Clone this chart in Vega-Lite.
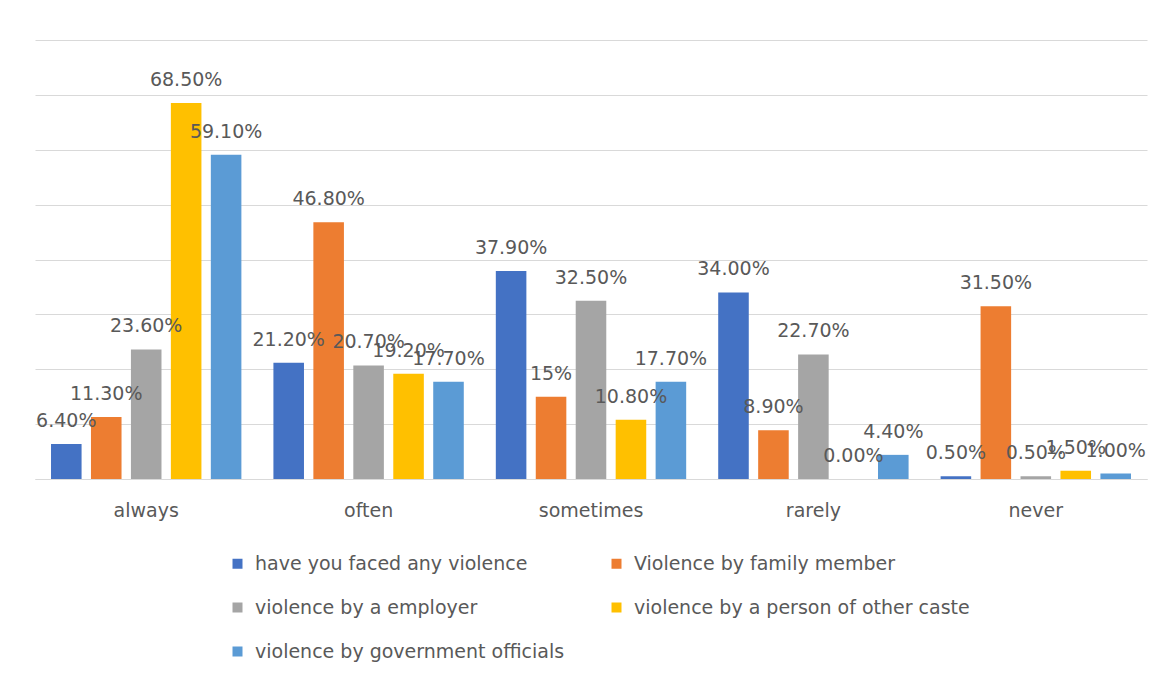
{
  "$schema": "https://vega.github.io/schema/vega-lite/v6.json",
  "width": 1112,
  "height": 439,
  "autosize": {"type": "none"},
  "padding": {"left": 35, "top": 40, "right": 24, "bottom": 200},
  "background": "white",
  "data": {
    "values": [
      {"cat": "always", "series": "have you faced any violence", "value": 6.4, "label": "6.40%"},
      {"cat": "always", "series": "Violence by family member", "value": 11.3, "label": "11.30%"},
      {"cat": "always", "series": "violence by a employer", "value": 23.6, "label": "23.60%"},
      {"cat": "always", "series": "violence by a person of other caste", "value": 68.5, "label": "68.50%"},
      {"cat": "always", "series": "violence by government officials", "value": 59.1, "label": "59.10%"},
      {"cat": "often", "series": "have you faced any violence", "value": 21.2, "label": "21.20%"},
      {"cat": "often", "series": "Violence by family member", "value": 46.8, "label": "46.80%"},
      {"cat": "often", "series": "violence by a employer", "value": 20.7, "label": "20.70%"},
      {"cat": "often", "series": "violence by a person of other caste", "value": 19.2, "label": "19.20%"},
      {"cat": "often", "series": "violence by government officials", "value": 17.7, "label": "17.70%"},
      {"cat": "sometimes", "series": "have you faced any violence", "value": 37.9, "label": "37.90%"},
      {"cat": "sometimes", "series": "Violence by family member", "value": 15, "label": "15%"},
      {"cat": "sometimes", "series": "violence by a employer", "value": 32.5, "label": "32.50%"},
      {"cat": "sometimes", "series": "violence by a person of other caste", "value": 10.8, "label": "10.80%"},
      {"cat": "sometimes", "series": "violence by government officials", "value": 17.7, "label": "17.70%"},
      {"cat": "rarely", "series": "have you faced any violence", "value": 34.0, "label": "34.00%"},
      {"cat": "rarely", "series": "Violence by family member", "value": 8.9, "label": "8.90%"},
      {"cat": "rarely", "series": "violence by a employer", "value": 22.7, "label": "22.70%"},
      {"cat": "rarely", "series": "violence by a person of other caste", "value": 0.0, "label": "0.00%"},
      {"cat": "rarely", "series": "violence by government officials", "value": 4.4, "label": "4.40%"},
      {"cat": "never", "series": "have you faced any violence", "value": 0.5, "label": "0.50%"},
      {"cat": "never", "series": "Violence by family member", "value": 31.5, "label": "31.50%"},
      {"cat": "never", "series": "violence by a employer", "value": 0.5, "label": "0.50%"},
      {"cat": "never", "series": "violence by a person of other caste", "value": 1.5, "label": "1.50%"},
      {"cat": "never", "series": "violence by government officials", "value": 1.0, "label": "1.00%"}
    ]
  },
  "encoding": {
    "x": {
      "field": "cat", "type": "nominal", "sort": null,
      "scale": {"paddingInner": 0.144, "paddingOuter": 0.072},
      "axis": {
        "title": null, "labelAngle": 0, "ticks": false,
        "domainColor": "#d9d9d9", "domainWidth": 1,
        "labelFont": "DejaVu Sans", "labelFontSize": 19, "labelColor": "#595959",
        "labelPadding": 22
      }
    },
    "xOffset": {
      "field": "series", "type": "nominal",
      "scale": {
        "domain": ["have you faced any violence", "Violence by family member", "violence by a employer", "violence by a person of other caste", "violence by government officials"],
        "paddingInner": 0.235, "paddingOuter": 0
      }
    },
    "y": {
      "field": "value", "type": "quantitative",
      "scale": {"domain": [0, 80], "nice": false},
      "axis": {
        "title": null, "labels": false, "ticks": false, "domain": false,
        "values": [0, 10, 20, 30, 40, 50, 60, 70, 80],
        "grid": true, "gridColor": "#d9d9d9", "gridWidth": 1
      }
    }
  },
  "layer": [
    {
      "mark": {"type": "bar"},
      "encoding": {
        "color": {
          "field": "series", "type": "nominal",
          "scale": {
            "domain": ["have you faced any violence", "Violence by family member", "violence by a employer", "violence by a person of other caste", "violence by government officials"],
            "range": ["#4472C4", "#ED7D31", "#A5A5A5", "#FFC000", "#5B9BD5"]
          },
          "legend": {
            "title": null, "orient": "none", "legendX": 193, "legendY": 514,
            "direction": "horizontal",
            "columns": 2, "columnPadding": 42, "rowPadding": 24, "padding": 0,
            "symbolType": "square", "symbolSize": 100, "symbolStrokeWidth": 0,
            "labelFont": "DejaVu Sans", "labelFontSize": 19, "labelColor": "#595959",
            "labelOffset": 8, "labelLimit": 500
          }
        }
      }
    },
    {
      "mark": {"type": "text", "baseline": "alphabetic", "dy": -17, "font": "DejaVu Sans", "fontSize": 19, "color": "#595959"},
      "encoding": {"text": {"field": "label"}}
    }
  ],
  "config": {"view": {"stroke": null}}
}
